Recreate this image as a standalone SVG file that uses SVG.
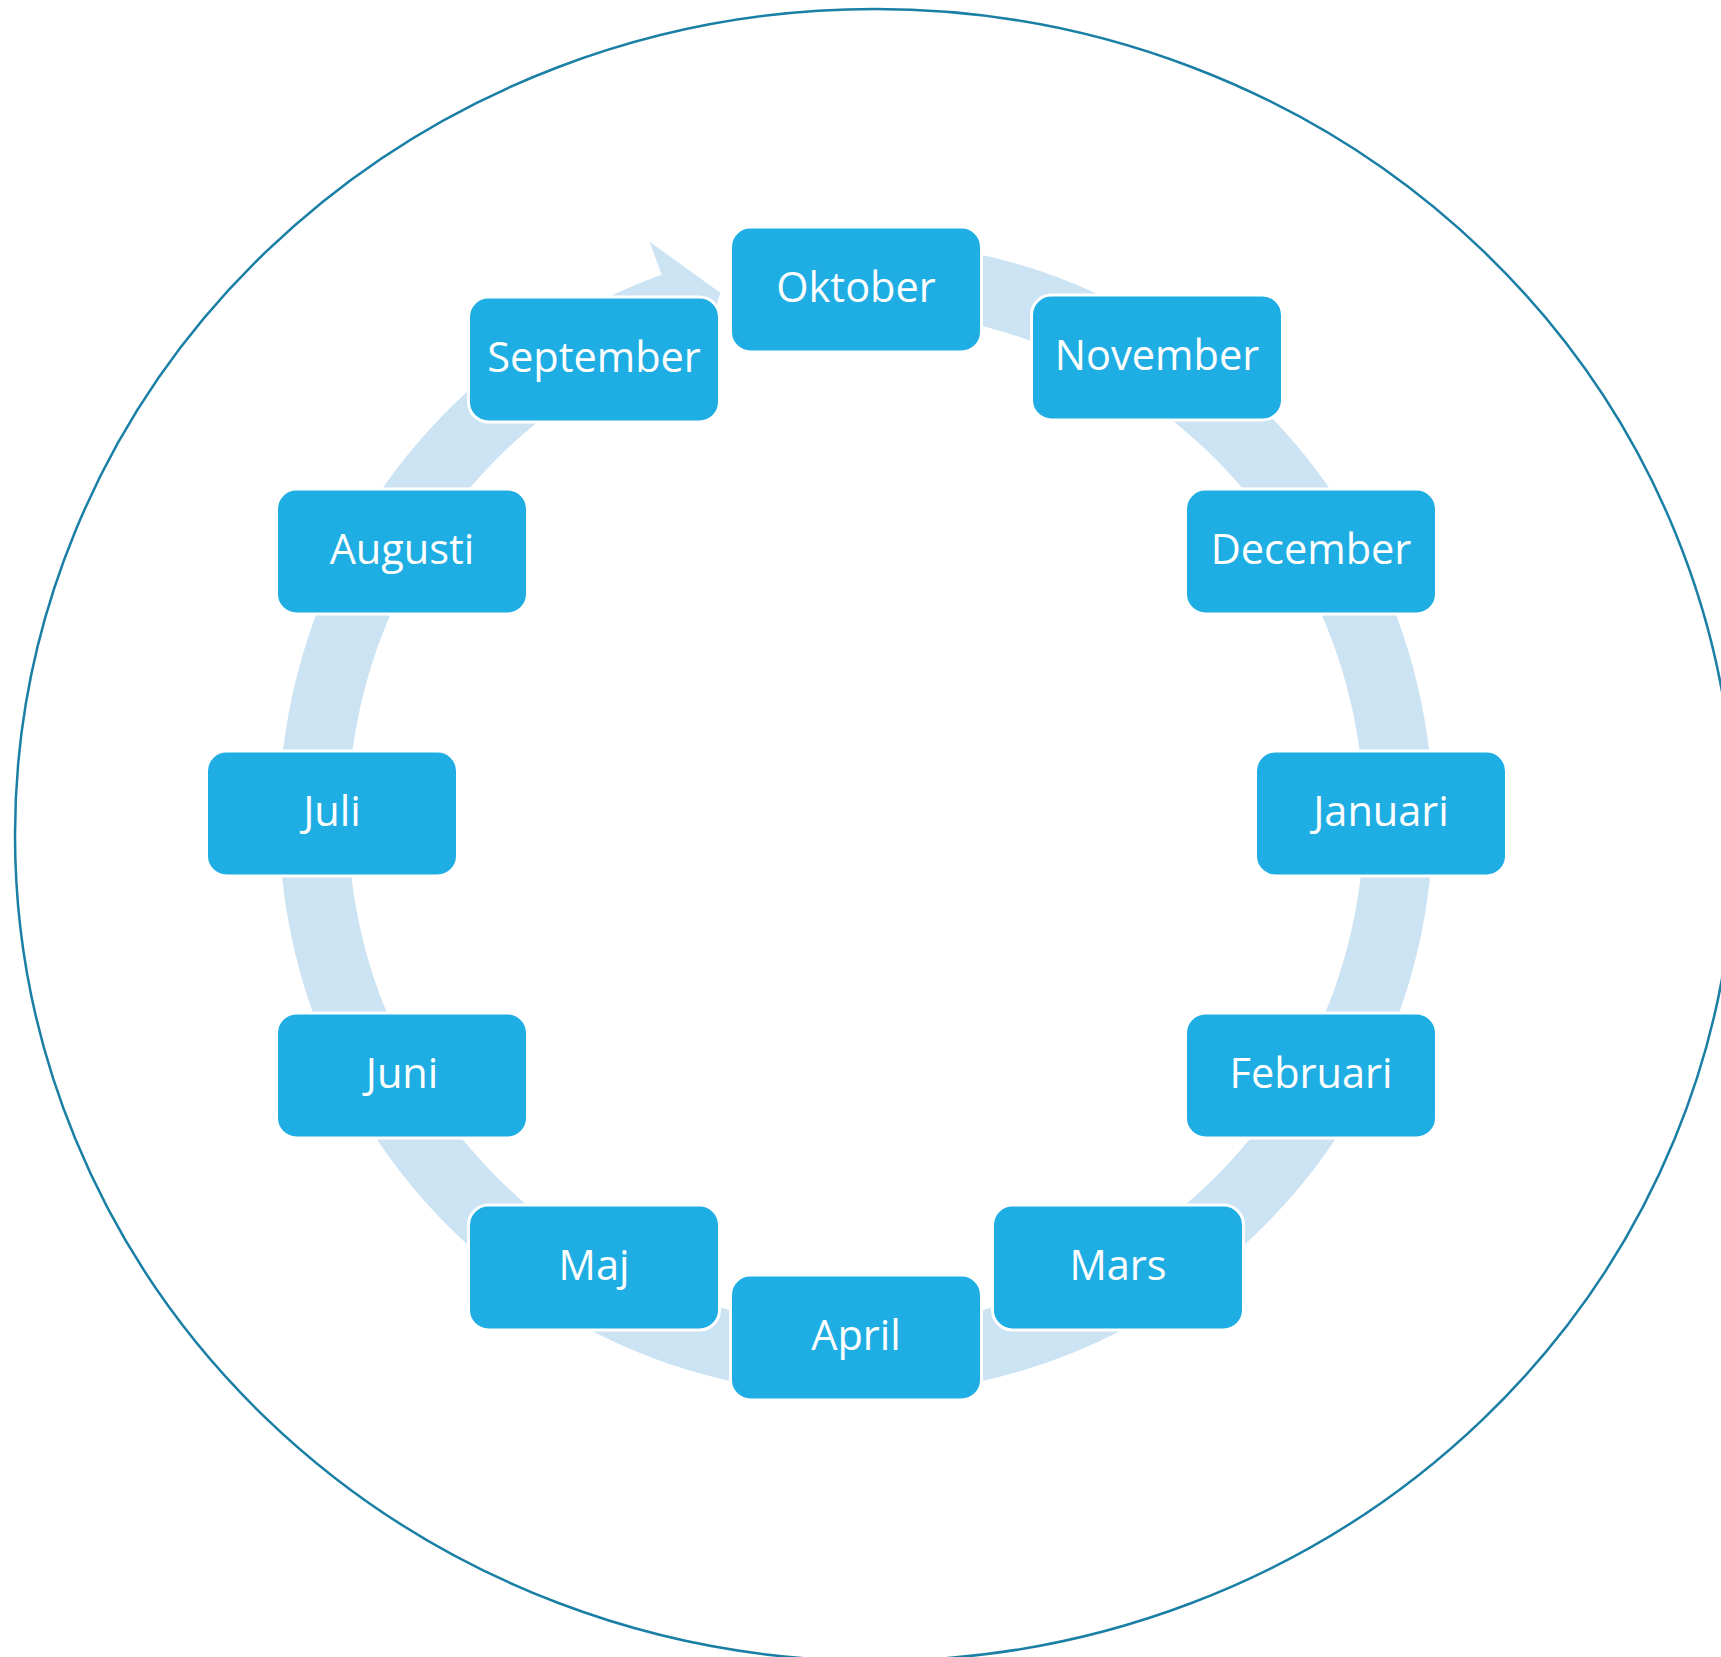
<svg xmlns="http://www.w3.org/2000/svg" width="1721" height="1657" viewBox="0 0 1721 1657">
<style>
.box{fill:#1FAEE3;stroke:#FFFFFF;stroke-width:3}
.lbl{font-family:"Open Sans","Liberation Sans",sans-serif;font-size:41.5px;fill:#FFFFFF;text-anchor:middle}
.ring{fill:#CCE3F4;stroke:none}
.frame{fill:none;stroke:#1A7FA5;stroke-width:2.5}
</style>
<rect x="0" y="0" width="1721" height="1657" fill="#FFFFFF"/>
<g id="frame">
<ellipse class="frame" cx="875" cy="835" rx="860" ry="826"/>
</g>
<g id="connectors">
<path class="ring" d="M 906.3 243.2 A 577 577 0 1 1 661.5 274.8 L 649.7 241.8 L 720.2 292.8 L 696.6 372.7 L 684.8 339.7 A 508 508 0 1 0 900.3 311.9 Z"/>
</g>
<g id="oktober"><rect class="box" x="730.5" y="227" width="251" height="125" rx="20"/><text class="lbl" x="856" y="302">Oktober</text></g>
<g id="november"><rect class="box" x="1031.5" y="295" width="251" height="125" rx="20"/><text class="lbl" x="1157" y="370">November</text></g>
<g id="december"><rect class="box" x="1185.5" y="489" width="251" height="125" rx="20"/><text class="lbl" x="1311" y="564">December</text></g>
<g id="januari"><rect class="box" x="1255.5" y="751" width="251" height="125" rx="20"/><text class="lbl" x="1381" y="826">Januari</text></g>
<g id="februari"><rect class="box" x="1185.5" y="1013" width="251" height="125" rx="20"/><text class="lbl" x="1311" y="1088">Februari</text></g>
<g id="mars"><rect class="box" x="992.5" y="1205" width="251" height="125" rx="20"/><text class="lbl" x="1118" y="1280">Mars</text></g>
<g id="april"><rect class="box" x="730.5" y="1275" width="251" height="125" rx="20"/><text class="lbl" x="856" y="1350">April</text></g>
<g id="maj"><rect class="box" x="468.5" y="1205" width="251" height="125" rx="20"/><text class="lbl" x="594" y="1280">Maj</text></g>
<g id="juni"><rect class="box" x="276.5" y="1013" width="251" height="125" rx="20"/><text class="lbl" x="402" y="1088">Juni</text></g>
<g id="juli"><rect class="box" x="206.5" y="751" width="251" height="125" rx="20"/><text class="lbl" x="332" y="826">Juli</text></g>
<g id="augusti"><rect class="box" x="276.5" y="489" width="251" height="125" rx="20"/><text class="lbl" x="402" y="564">Augusti</text></g>
<g id="september"><rect class="box" x="468.5" y="297" width="251" height="125" rx="20"/><text class="lbl" x="594" y="372">September</text></g>
</svg>
